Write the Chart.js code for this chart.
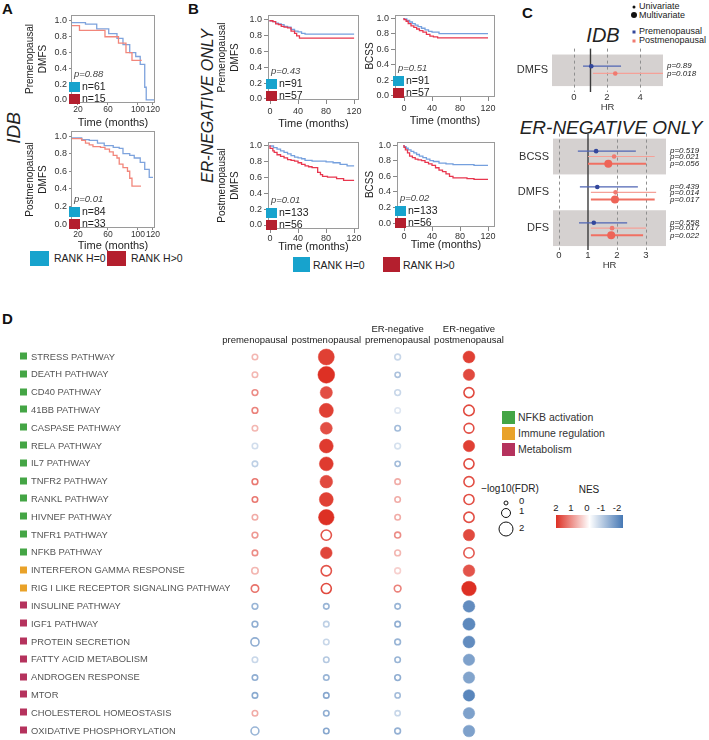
<!DOCTYPE html>
<html>
<head>
<meta charset="utf-8">
<title>RANK survival and pathway figure</title>
<script src="https://cdn.jsdelivr.net/npm/chart.js@4.4.1/dist/chart.umd.min.js"></script>
<style>
  body { margin: 0; background: #fff; }
  #wrap { position: relative; width: 709px; height: 740px; overflow: hidden; font-family: "Liberation Sans", Arial, sans-serif; color: #222; }
  #wrap canvas, .t, .sq { position: absolute; }
  .t { white-space: nowrap; line-height: 1; }
  .pl { font-weight: bold; font-size: 15px; color: #111; }
  .rot { transform: translate(-50%, -50%) rotate(-90deg); font-style: italic; }
  .ctr { transform: translate(-50%, -50%); }
  .lc { transform: translate(0, -50%); }
  .dot { position: absolute; border-radius: 50%; transform: translate(-50%, -50%); }
</style>
</head>
<body>
<div id="wrap">
  <div class="t pl" style="left:2px;top:1px">A</div>
  <div class="t pl" style="left:188px;top:1px">B</div>
  <div class="t pl" style="left:522px;top:5px">C</div>
  <div class="t pl" style="left:2px;top:311px">D</div>

  <div class="t rot" style="left:13px;top:128px;font-size:19px">IDB</div>
  <div class="t rot" style="left:208px;top:106px;font-size:16px">ER-NEGATIVE ONLY</div>

  <!-- A legend -->
  <div class="sq" style="left:30px;top:251px;width:19px;height:15px;background:#17a3cd"></div>
  <div class="t lc" style="left:54px;top:258px;font-size:10.5px">RANK H=0</div>
  <div class="sq" style="left:107px;top:251px;width:19px;height:15px;background:#b41f2e"></div>
  <div class="t lc" style="left:131px;top:258px;font-size:10.5px">RANK H&gt;0</div>

  <!-- B legend -->
  <div class="sq" style="left:293px;top:257px;width:17px;height:15px;background:#17a3cd"></div>
  <div class="t lc" style="left:313px;top:265px;font-size:10.5px">RANK H=0</div>
  <div class="sq" style="left:383px;top:257px;width:17px;height:15px;background:#b41f2e"></div>
  <div class="t lc" style="left:403px;top:265px;font-size:10.5px">RANK H&gt;0</div>

  <!-- C legend and titles -->
  <div class="dot" style="left:634px;top:7px;width:3px;height:3px;background:#111"></div>
  <div class="t lc" style="left:639px;top:6px;font-size:9px">Univariate</div>
  <div class="dot" style="left:634px;top:15px;width:6px;height:6px;background:#111"></div>
  <div class="t lc" style="left:639px;top:14.5px;font-size:9px">Multivariate</div>
  <div class="dot" style="left:634px;top:32px;width:3px;height:3px;background:#33479c;border-radius:0"></div>
  <div class="t lc" style="left:639px;top:31px;font-size:9px">Premenopausal</div>
  <div class="dot" style="left:634px;top:41px;width:3px;height:3px;background:#f07a70;border-radius:0"></div>
  <div class="t lc" style="left:639px;top:40px;font-size:9px">Postmenopausal</div>
  <div class="t ctr" style="left:603px;top:35px;font-size:20px;font-style:italic">IDB</div>
  <div class="t ctr" style="left:611px;top:127px;font-size:19px;font-style:italic">ER-NEGATIVE ONLY</div>

  <!-- D legends -->
  <div class="sq" style="left:502px;top:411px;width:13px;height:13px;background:#44a545"></div>
  <div class="t lc" style="left:518px;top:417px;font-size:10.5px;color:#333">NFKB activation</div>
  <div class="sq" style="left:502px;top:427px;width:13px;height:13px;background:#e9a229"></div>
  <div class="t lc" style="left:518px;top:433px;font-size:10.5px;color:#333">Immune regulation</div>
  <div class="sq" style="left:502px;top:443px;width:13px;height:13px;background:#b5325d"></div>
  <div class="t lc" style="left:518px;top:449px;font-size:10.5px;color:#333">Metabolism</div>

  <div class="t ctr" style="left:510px;top:489px;font-size:10px">−log10(FDR)</div>
  <div class="dot" style="left:506px;top:503px;width:3px;height:3px;border:1.6px solid #111"></div>
  <div class="t lc" style="left:519px;top:501px;font-size:9.5px">0</div>
  <div class="dot" style="left:506px;top:513px;width:8px;height:8px;border:1.6px solid #111"></div>
  <div class="t lc" style="left:519px;top:511px;font-size:9.5px">1</div>
  <div class="dot" style="left:506px;top:529px;width:13px;height:13px;border:1.6px solid #111"></div>
  <div class="t lc" style="left:519px;top:528px;font-size:9.5px">2</div>

  <div class="t ctr" style="left:589px;top:490px;font-size:10px">NES</div>
  <div class="t ctr" style="left:556px;top:508px;font-size:9.5px">2</div>
  <div class="t ctr" style="left:571px;top:508px;font-size:9.5px">1</div>
  <div class="t ctr" style="left:587px;top:508px;font-size:9.5px">0</div>
  <div class="t ctr" style="left:601px;top:508px;font-size:9.5px">-1</div>
  <div class="t ctr" style="left:617px;top:508px;font-size:9.5px">-2</div>
  <div class="sq" style="left:556px;top:515px;width:67px;height:13px;background:linear-gradient(to right, rgb(221,48,36), #fff 50%, rgb(70,120,180))"></div>
</div>

<script>
const FONT = '"Liberation Sans", Arial, sans-serif';

// ---- A: IDB, DMFS (time in months, survival fraction) ----
const aPreBlueT = [0, 30, 45, 61, 72, 80, 89, 97, 103, 109, 111, 122];
const aPreBlueS = [1, 0.98, 0.96, 0.9, 0.84, 0.78, 0.7, 0.6, 0.55, 0.45, 0.16, 0];
const aPreRedT = [0, 22, 56, 74, 84, 92, 100, 105];
const aPreRedS = [1, 0.94, 0.88, 0.8, 0.72, 0.6, 0.5, 0.5];
const aPostBlueT = [0, 25, 35, 46, 55, 67, 75, 80, 89, 95, 103, 109, 115, 120];
const aPostBlueS = [1, 0.98, 0.96, 0.95, 0.92, 0.89, 0.87, 0.86, 0.8, 0.78, 0.75, 0.7, 0.62, 0.53];
const aPostRedT = [0, 25, 30, 35, 40, 50, 56, 62, 67, 72, 75, 80, 86, 89, 92, 95, 104];
const aPostRedS = [1, 0.97, 0.95, 0.92, 0.9, 0.88, 0.87, 0.85, 0.82, 0.78, 0.75, 0.68, 0.64, 0.6, 0.52, 0.43, 0.43];

// ---- B: ER-negative only ----
const bPreDmfsBlueT = [0, 4, 8, 12, 16, 20, 25, 30, 35, 40, 45, 50, 55, 120];
const bPreDmfsBlueS = [1, 0.99, 0.98, 0.96, 0.95, 0.94, 0.92, 0.91, 0.88, 0.86, 0.85, 0.83, 0.82, 0.82];
const bPreDmfsRedT = [0, 4, 8, 12, 16, 20, 25, 30, 35, 38, 42, 47, 120];
const bPreDmfsRedS = [1, 0.99, 0.98, 0.95, 0.94, 0.92, 0.91, 0.9, 0.86, 0.83, 0.8, 0.77, 0.77];
const bPreBcssBlueT = [0, 4, 8, 12, 16, 20, 25, 30, 35, 40, 50, 115, 120];
const bPreBcssBlueS = [1, 0.99, 0.97, 0.95, 0.93, 0.91, 0.89, 0.87, 0.85, 0.83, 0.82, 0.8, 0.8];
const bPreBcssRedT = [0, 3, 6, 10, 14, 18, 22, 27, 32, 37, 42, 48, 68, 120];
const bPreBcssRedS = [1, 0.98, 0.96, 0.93, 0.9, 0.88, 0.86, 0.84, 0.82, 0.79, 0.77, 0.76, 0.745, 0.745];
const bPostDmfsBlueT = [0, 5, 10, 15, 20, 25, 30, 35, 40, 45, 50, 60, 80, 90, 100, 110, 120];
const bPostDmfsBlueS = [1, 0.99, 0.97, 0.95, 0.93, 0.91, 0.89, 0.87, 0.85, 0.84, 0.83, 0.81, 0.8, 0.79, 0.78, 0.76, 0.74];
const bPostDmfsRedT = [0, 4, 6, 10, 15, 20, 25, 30, 35, 40, 45, 50, 55, 60, 68, 72, 75, 82, 95, 105, 110, 120];
const bPostDmfsRedS = [1, 0.96, 0.93, 0.91, 0.88, 0.86, 0.84, 0.82, 0.81, 0.8, 0.78, 0.76, 0.74, 0.73, 0.72, 0.66, 0.63, 0.61, 0.6, 0.58, 0.56, 0.56];
const bPostBcssBlueT = [0, 3, 6, 10, 14, 18, 22, 27, 32, 37, 42, 50, 60, 70, 100, 120];
const bPostBcssBlueS = [1, 0.98, 0.96, 0.94, 0.92, 0.9, 0.88, 0.86, 0.84, 0.82, 0.8, 0.79, 0.77, 0.76, 0.75, 0.74];
const bPostBcssRedT = [0, 2, 5, 8, 12, 16, 20, 25, 30, 35, 40, 45, 50, 55, 60, 65, 70, 90, 100, 105, 120];
const bPostBcssRedS = [1, 0.97, 0.94, 0.9, 0.86, 0.84, 0.82, 0.81, 0.8, 0.78, 0.76, 0.74, 0.71, 0.68, 0.66, 0.63, 0.6, 0.58, 0.57, 0.56, 0.56];

// p-value, n (RANK H=0), n (RANK H>0)
const aPreNote = ['p=0.88', 'n=61', 'n=15'];
const aPostNote = ['p=0.01', 'n=84', 'n=33'];
const bPreDmfsNote = ['p=0.43', 'n=91', 'n=57'];
const bPreBcssNote = ['p=0.51', 'n=91', 'n=57'];
const bPostDmfsNote = ['p=0.01', 'n=133', 'n=56'];
const bPostBcssNote = ['p=0.02', 'n=133', 'n=56'];

// ---- C: hazard ratios ----
const idbEndpoints = ['DMFS'];
const idbGroup = [0, 0];
const idbKind = ['preUni', 'postUni'];
const idbHR = [1.05, 2.5];
const idbLow = [0.55, 1.15];
const idbHigh = [2.85, 5.6];
const idbP = ['p=0.89', 'p=0.018'];

const erEndpoints = ['BCSS', 'DMFS', 'DFS'];
const erGroup = [0, 0, 0, 1, 1, 1, 2, 2, 2];
const erKind = ['preUni', 'postUni', 'postMulti', 'preUni', 'postUni', 'postMulti', 'preUni', 'postUni', 'postMulti'];
const erHR = [1.28, 1.9, 1.7, 1.32, 1.95, 1.93, 1.2, 1.83, 1.8];
const erLow = [0.65, 1.0, 1.0, 0.72, 1.1, 1.1, 0.69, 1.1, 1.1];
const erHigh = [2.65, 3.3, 3.0, 2.72, 3.35, 3.3, 2.35, 3.0, 2.9];
const erP = ['p=0.519', 'p=0.021', 'p=0.056', 'p=0.439', 'p=0.014', 'p=0.017', 'p=0.558', 'p=0.017', 'p=0.022'];

// ---- D: GSEA ----
const pathways = ['STRESS PATHWAY', 'DEATH PATHWAY', 'CD40 PATHWAY', '41BB PATHWAY', 'CASPASE PATHWAY',
  'RELA PATHWAY', 'IL7 PATHWAY', 'TNFR2 PATHWAY', 'RANKL PATHWAY', 'HIVNEF PATHWAY', 'TNFR1 PATHWAY',
  'NFKB PATHWAY', 'INTERFERON GAMMA RESPONSE', 'RIG I LIKE RECEPTOR SIGNALING PATHWAY', 'INSULINE PATHWAY',
  'IGF1 PATHWAY', 'PROTEIN SECRETION', 'FATTY ACID METABOLISM', 'ANDROGEN RESPONSE', 'MTOR',
  'CHOLESTEROL HOMEOSTASIS', 'OXIDATIVE PHOSPHORYLATION'];
const pathwayGroup = ['nfkb', 'nfkb', 'nfkb', 'nfkb', 'nfkb', 'nfkb', 'nfkb', 'nfkb', 'nfkb', 'nfkb', 'nfkb',
  'nfkb', 'immune', 'immune', 'metab', 'metab', 'metab', 'metab', 'metab', 'metab', 'metab', 'metab'];
const columnLabels = [['', 'premenopausal'], ['', 'postmenopausal'], ['ER-negative', 'premenopausal'], ['ER-negative', 'postmenopausal']];
const nesPre = [0.7, 0.7, 1.1, 1.2, 0.7, -0.5, -0.7, 1.3, 1.3, 0.8, 1.0, 1.1, 0.7, 1.35, -1.1, -1.2, -1.2, -0.6, -1.2, -1.25, 0.8, -1.1];
const fdrPre = [0.1, 0.1, 0.15, 0.15, 0.1, 0.1, 0.1, 0.15, 0.1, 0.1, 0.15, 0.1, 0.3, 0.5, 0.15, 0.15, 0.65, 0.1, 0.1, 0.1, 0.1, 0.6];
const nesPost = [1.85, 2.1, 1.7, 1.85, 1.7, 1.9, 1.9, 1.75, 1.85, 2.0, 1.65, 1.8, 1.65, 1.75, -1.1, -0.7, -0.6, -0.8, -1.1, -1.3, -1.2, -1.3];
const fdrPost = [2.3, 2.45, 1.5, 1.9, 1.45, 1.85, 1.85, 1.6, 1.85, 2.2, 1.1, 1.4, 1.1, 1.05, 0.1, 0.1, 0.1, 0.1, 0.1, 0.1, 0.1, 0.1];
const nesErPre = [-0.6, -0.9, -0.6, -0.35, -1.0, -0.45, -1.0, 0.8, 0.8, 0.8, 1.1, 0.7, 0.45, 1.2, -1.1, -1.2, -1.1, -1.1, -1.2, -1.0, -0.6, -1.15];
const fdrErPre = [0.15, 0.05, 0.15, 0.1, 0.1, 0.15, 0.05, 0.1, 0.1, 0.1, 0.2, 0.15, 0.15, 0.35, 0.1, 0.1, 0.15, 0.1, 0.15, 0.05, 0.05, 0.15];
const nesErPost = [1.85, 1.75, 1.75, 1.75, 1.7, 1.85, 1.75, 1.7, 1.7, 1.7, 1.75, 1.6, 1.65, 2.1, -1.7, -1.75, -1.7, -1.4, -1.35, -1.8, -1.4, -1.4];
const fdrErPost = [1.45, 1.35, 1.05, 1.15, 1.0, 1.35, 1.05, 1.05, 1.05, 1.1, 1.35, 1.1, 1.4, 2.0, 1.4, 1.5, 1.45, 1.35, 1.35, 1.35, 1.35, 1.4];

Chart.defaults.font.family = FONT;
Chart.defaults.color = '#333';
Chart.defaults.animation = false;
Chart.defaults.events = [];
Chart.defaults.plugins.legend.display = false;
Chart.defaults.plugins.tooltip.enabled = false;

const BLUE_SQ = '#17a3cd';
const RED_SQ = '#b41f2e';

function addCanvas(left, top, w, h) {
  const c = document.createElement('canvas');
  c.width = w; c.height = h;
  c.style.left = left + 'px';
  c.style.top = top + 'px';
  document.getElementById('wrap').appendChild(c);
  return c;
}

// frame, p value and group counts inside each survival plot
const kmNote = {
  id: 'kmNote',
  afterDraw(chart, args, opts) {
    const {ctx, chartArea: a} = chart;
    ctx.save();
    ctx.strokeStyle = '#9a9a9a';
    ctx.lineWidth = 1;
    ctx.strokeRect(a.left + 0.5, a.top + 0.5, a.width - 1, a.height - 1);
    ctx.textBaseline = 'middle';
    ctx.font = 'italic 9.5px ' + FONT;
    ctx.fillStyle = '#444';
    ctx.fillText(opts.note[0], a.left + 3, a.bottom - 29);
    ctx.fillStyle = BLUE_SQ;
    ctx.fillRect(a.left - 2, a.bottom - 21, 11, 10);
    ctx.fillStyle = RED_SQ;
    ctx.fillRect(a.left - 2, a.bottom - 9, 11, 10);
    ctx.fillStyle = '#222';
    ctx.font = '10.5px ' + FONT;
    ctx.fillText(opts.note[1], a.left + 11, a.bottom - 16);
    ctx.fillText(opts.note[2], a.left + 11, a.bottom - 4);
    ctx.restore();
  }
};

function kmChart(o) {
  const L = 70, T = 10, R = 12, B = 34;
  const cv = addCanvas(o.x - L, o.y - T, o.w + L + R, o.h + T + B);
  const pts = (t, s) => t.map((v, i) => ({x: v, y: s[i]}));
  return new Chart(cv, {
    type: 'line',
    data: {
      datasets: [
        {data: pts(o.redT, o.redS), borderColor: o.redCol, borderWidth: 1.3, stepped: 'after', pointRadius: 0, fill: false},
        {data: pts(o.blueT, o.blueS), borderColor: o.blueCol, borderWidth: 1.3, stepped: 'after', pointRadius: 0, fill: false}
      ]
    },
    options: {
      responsive: false,
      devicePixelRatio: 1,
      layout: {padding: {left: 0, top: T, right: R, bottom: 0}},
      scales: {
        x: {
          type: 'linear', min: o.xMin, max: o.xMax,
          afterBuildTicks: s => { s.ticks = o.xTicks.map(v => ({value: v})); },
          afterFit: s => { s.height = B; },
          grid: {drawOnChartArea: false, tickLength: o.tickLen, color: '#888'},
          border: {display: false},
          ticks: {autoSkip: false, maxRotation: 0, padding: o.xTickPad, font: {size: o.xTickSize || 9}, color: '#333'},
          title: {display: true, text: 'Time (months)', font: {size: 11}, color: '#222', padding: {top: 0, bottom: o.xTitlePad}}
        },
        y: {
          type: 'linear', min: o.yMin, max: o.yMax,
          afterBuildTicks: s => { s.ticks = [0, 0.2, 0.4, 0.6, 0.8, 1].map(v => ({value: v})); },
          afterFit: s => { s.width = L; },
          grid: {drawOnChartArea: false, tickLength: o.tickLen, color: '#888'},
          border: {display: false},
          ticks: {autoSkip: false, padding: 2, font: {size: 9}, color: '#333', callback: v => v.toFixed(1)},
          title: {display: true, text: o.yTitle, font: {size: 10, lineHeight: 1.35}, color: '#222', padding: {top: o.yTitlePad, bottom: 0}}
        }
      },
      plugins: {kmNote: {note: o.note}}
    },
    plugins: [kmNote]
  });
}

const A_BLUE = '#7ea3dd', A_RED = '#f2867b';
const B_BLUE = '#75a0de', B_RED = '#e8364e';

kmChart({x: 71, y: 15, w: 84, h: 88, yMin: -0.04, yMax: 1.076, xMin: 10.7, xMax: 122.7, xTicks: [20, 60, 100, 120],
  yTitle: ['Premenopausal', 'DMFS'], yTitlePad: 22, tickLen: 2, xTickPad: 0, xTitlePad: 7.4, xTickSize: 8.5,
  blueT: aPreBlueT, blueS: aPreBlueS, redT: aPreRedT, redS: aPreRedS, blueCol: A_BLUE, redCol: A_RED, note: aPreNote});
kmChart({x: 71, y: 131, w: 84, h: 97, yMin: -0.045, yMax: 1.057, xMin: 10.7, xMax: 122.7, xTicks: [20, 60, 100, 120],
  yTitle: ['Postmenopausal', 'DMFS'], yTitlePad: 22, tickLen: 2, xTickPad: 0, xTitlePad: 9.4, xTickSize: 8.5,
  blueT: aPostBlueT, blueS: aPostBlueS, redT: aPostRedT, redS: aPostRedS, blueCol: A_BLUE, redCol: A_RED, note: aPostNote});
kmChart({x: 268, y: 15, w: 91, h: 85, yMin: -0.013, yMax: 1.063, xMin: -2.9, xMax: 127, xTicks: [0, 40, 80, 120],
  yTitle: ['Premenopausal', 'DMFS'], yTitlePad: 17, tickLen: 4, xTickPad: 2.5, xTitlePad: 3.4,
  blueT: bPreDmfsBlueT, blueS: bPreDmfsBlueS, redT: bPreDmfsRedT, redS: bPreDmfsRedS, blueCol: B_BLUE, redCol: B_RED, note: bPreDmfsNote});
kmChart({x: 395, y: 15, w: 100, h: 82, yMin: -0.013, yMax: 1.04, xMin: -12.9, xMax: 130, xTicks: [0, 40, 80, 120],
  yTitle: 'BCSS', yTitlePad: 38, tickLen: 4, xTickPad: 2.5, xTitlePad: 3.4,
  blueT: bPreBcssBlueT, blueS: bPreBcssBlueS, redT: bPreBcssRedT, redS: bPreBcssRedS, blueCol: B_BLUE, redCol: B_RED, note: bPreBcssNote});
kmChart({x: 268, y: 142, w: 91, h: 87, yMin: -0.05, yMax: 1.04, xMin: -2.9, xMax: 127, xTicks: [0, 40, 80, 120],
  yTitle: ['Postmenopausal', 'DMFS'], yTitlePad: 17, tickLen: 4, xTickPad: 0, xTitlePad: 9.4,
  blueT: bPostDmfsBlueT, blueS: bPostDmfsBlueS, redT: bPostDmfsRedT, redS: bPostDmfsRedS, blueCol: B_BLUE, redCol: B_RED, note: bPostDmfsNote});
kmChart({x: 397, y: 142, w: 98, h: 85, yMin: -0.05, yMax: 1.04, xMin: -10, xMax: 130, xTicks: [0, 40, 80, 120],
  yTitle: 'BCSS', yTitlePad: 36, tickLen: 4, xTickPad: 0, xTitlePad: 9.4,
  blueT: bPostBcssBlueT, blueS: bPostBcssBlueS, redT: bPostBcssRedT, redS: bPostBcssRedS, blueCol: B_BLUE, redCol: B_RED, note: bPostBcssNote});

// ---------- C: forest plots ----------
const kindStyle = {
  preUni: {line: '#4f64b4', lw: 1.2, point: '#33479c', r: 2.3},
  postUni: {line: '#f5a198', lw: 1.2, point: '#f07a70', r: 2.3},
  postMulti: {line: '#f07063', lw: 2, point: '#ee6457', r: 4}
};

const forestBg = {
  id: 'forestBg',
  beforeDatasetsDraw(chart, args, o) {
    const {ctx, chartArea: a, scales: {x, y}} = chart;
    ctx.save();
    ctx.fillStyle = '#d5d1d0';
    o.bands.forEach(([b0, b1]) => {
      const p0 = y.getPixelForValue(b0), p1 = y.getPixelForValue(b1);
      ctx.fillRect(a.left, Math.min(p0, p1), a.width, Math.abs(p1 - p0));
    });
    ctx.strokeStyle = '#8f8f8f';
    ctx.lineWidth = 1;
    ctx.setLineDash([3, 3]);
    o.dashed.forEach(v => {
      const px = Math.round(x.getPixelForValue(v)) + 0.5;
      ctx.beginPath(); ctx.moveTo(px, a.top); ctx.lineTo(px, a.bottom); ctx.stroke();
    });
    ctx.setLineDash([]);
    ctx.strokeStyle = '#3a3a3a';
    ctx.lineWidth = 1.4;
    const p1 = x.getPixelForValue(1);
    ctx.beginPath(); ctx.moveTo(p1, a.top); ctx.lineTo(p1, a.bottom); ctx.stroke();
    ctx.restore();
  }
};

function forestChart(o) {
  const YW = 50, T = 10, B = 26;
  const cv = addCanvas(o.x - YW, o.y - T, YW + o.w + o.y2W, T + o.h + B);
  const ys = o.group.map((g, i) => g + o.offset[o.kind[i]]);
  const ciSets = o.hr.map((h, i) => ({
    type: 'line', showLine: true, pointRadius: 0,
    data: [{x: o.low[i], y: ys[i]}, {x: o.high[i], y: ys[i]}],
    borderColor: kindStyle[o.kind[i]].line, borderWidth: kindStyle[o.kind[i]].lw
  }));
  const pointSet = {
    data: o.hr.map((h, i) => ({x: h, y: ys[i]})),
    pointRadius: o.kind.map(k => kindStyle[k].r),
    pointBackgroundColor: o.kind.map(k => kindStyle[k].point),
    pointBorderWidth: 0
  };
  const noTicks = {display: false, drawTicks: false};
  return new Chart(cv, {
    type: 'scatter',
    data: {datasets: [pointSet, ...ciSets]},
    options: {
      responsive: false,
      devicePixelRatio: 1,
      layout: {padding: {left: 0, top: T, right: 0, bottom: 0}},
      scales: {
        x: {
          min: o.xMin, max: o.xMax,
          afterBuildTicks: s => { s.ticks = o.xTicks.map(v => ({value: v})); },
          afterFit: s => { s.height = B; },
          grid: noTicks, border: {display: false},
          ticks: {autoSkip: false, maxRotation: 0, padding: 0, font: {size: 9.5}, color: '#333', callback: v => String(v)},
          title: {display: true, text: 'HR', font: {size: 9.5}, color: '#333', padding: {top: 0, bottom: 4.5}}
        },
        y: {
          min: o.yMin, max: o.yMax, reverse: true,
          afterBuildTicks: s => { s.ticks = o.endpoints.map((e, i) => ({value: i})); },
          afterFit: s => { s.width = YW; },
          grid: noTicks, border: {display: false},
          ticks: {autoSkip: false, padding: 4, font: {size: 11}, color: '#333', callback: (v, i) => o.endpoints[i]}
        },
        y2: {
          position: 'right', min: o.yMin, max: o.yMax, reverse: true,
          afterBuildTicks: s => { s.ticks = ys.map(v => ({value: v})); },
          afterFit: s => { s.width = o.y2W; },
          grid: noTicks, border: {display: false},
          ticks: {autoSkip: false, padding: 4, font: {size: 8, style: 'italic'}, color: '#222', callback: (v, i) => o.p[i]}
        }
      },
      plugins: {forestBg: {bands: o.bands, dashed: o.xTicks.filter(v => v !== 1)}}
    },
    plugins: [forestBg]
  });
}

forestChart({x: 552, y: 48, w: 111, h: 44, y2W: 46, xMin: -1.33, xMax: 5.39, xTicks: [0, 2, 4],
  yMin: -0.6875, yMax: 0.6875, bands: [[-0.5, 0.5]], offset: {preUni: -0.13, postUni: 0.1},
  endpoints: idbEndpoints, group: idbGroup, kind: idbKind, hr: idbHR, low: idbLow, high: idbHigh, p: idbP});
forestChart({x: 553, y: 133, w: 113, h: 117, y2W: 43, xMin: -0.207, xMax: 3.69, xTicks: [0, 1, 2, 3],
  yMin: -0.64, yMax: 2.61, bands: [[-0.5, 0.5], [1.5, 2.5]], offset: {preUni: -0.15, postUni: 0, postMulti: 0.2},
  endpoints: erEndpoints, group: erGroup, kind: erKind, hr: erHR, low: erLow, high: erHigh, p: erP});

// ---------- D: bubble plot ----------
const groupColor = {nfkb: '#44a545', immune: '#e9a229', metab: '#b5325d'};
const RED_END = [221, 48, 36], BLUE_END = [70, 120, 180];
function nesColor(v) {
  const t = Math.min(Math.abs(v) / 2, 1);
  const end = v >= 0 ? RED_END : BLUE_END;
  const c = end.map(e => Math.round(255 - t * (255 - e)));
  return 'rgb(' + c.join(',') + ')';
}
const bubbleSize = f => 2.5 + 2.4 * f;
const isSig = f => f > 1.3;

const groupSquares = {
  id: 'groupSquares',
  afterDraw(chart) {
    const {ctx, scales: {y}} = chart;
    ctx.save();
    pathways.forEach((p, i) => {
      ctx.fillStyle = groupColor[pathwayGroup[i]];
      ctx.fillRect(20, Math.round(y.getPixelForValue(i)) - 4.5, 7, 7);
    });
    ctx.restore();
  }
};

const nesCols = [nesPre, nesPost, nesErPre, nesErPost];
const fdrCols = [fdrPre, fdrPost, fdrErPre, fdrErPost];
const bubbleSets = nesCols.map((nes, c) => ({
  data: pathways.map((p, i) => ({x: c, y: i, r: bubbleSize(fdrCols[c][i])})),
  backgroundColor: nes.map((v, i) => isSig(fdrCols[c][i]) ? nesColor(v) : '#ffffff'),
  borderColor: nes.map(v => nesColor(v)),
  borderWidth: nes.map((v, i) => isSig(fdrCols[c][i]) ? 0.5 : 1.6)
}));

new Chart(addCanvas(0, 310, 510, 440), {
  type: 'bubble',
  data: {datasets: bubbleSets},
  options: {
    responsive: false,
    devicePixelRatio: 1,
    layout: {padding: {left: 31, top: 0, right: 10, bottom: 10}},
    scales: {
      x: {
        position: 'top', min: -0.35, max: 3.435,
        afterBuildTicks: s => { s.ticks = columnLabels.map((l, i) => ({value: i})); },
        afterFit: s => { s.height = 38; },
        grid: {display: false, drawTicks: false}, border: {display: false},
        ticks: {autoSkip: false, maxRotation: 0, padding: 2, font: {size: 9.5}, color: '#222', callback: (v, i) => columnLabels[i]}
      },
      y: {
        min: -0.505, max: 21.505, reverse: true,
        afterBuildTicks: s => { s.ticks = pathways.map((p, i) => ({value: i})); },
        afterFit: s => { s.width = 199; },
        grid: {display: false, drawTicks: false}, border: {display: false},
        ticks: {autoSkip: false, crossAlign: 'far', font: {size: 9.4}, color: '#555', callback: (v, i) => pathways[i]}
      }
    }
  },
  plugins: [groupSquares]
});
</script>
</body>
</html>
